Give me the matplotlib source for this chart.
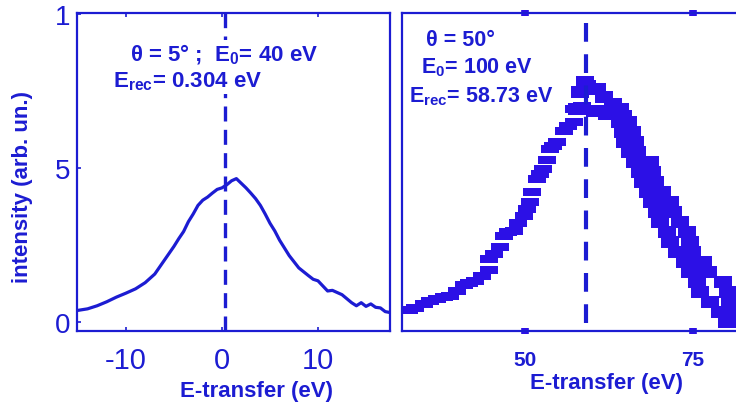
import numpy as np
import matplotlib
matplotlib.use('Agg')
from matplotlib import pyplot as plt

plt.rcParams['font.family'] = ['Liberation Sans', 'DejaVu Sans']
plt.rcParams['mathtext.fontset'] = 'custom'
plt.rcParams['mathtext.rm'] = 'Liberation Sans:bold'
plt.rcParams['mathtext.it'] = 'Liberation Sans:bold'
plt.rcParams['mathtext.bf'] = 'Liberation Sans:bold'
plt.rcParams['axes.unicode_minus'] = False

# left panel: theta = 5 deg, continuous spectrum
left_x = [-15.0, -14.0, -13.0, -12.0, -11.0, -10.0, -9.0, -8.0, -7.0, -6.0,
          -5.0, -4.5, -4.0, -3.5, -3.0, -2.5, -2.0, -1.5, -1.0, -0.5,
          0.0, 0.5, 1.0, 1.5, 2.0, 2.5, 3.0, 3.5, 4.0, 4.5,
          5.0, 5.5, 6.0, 7.0, 8.0, 9.0, 9.5, 10.0, 11.0, 11.5,
          12.0, 12.5, 13.0, 13.5, 14.0, 14.5, 15.0, 15.5, 16.0, 16.5,
          17.0, 17.5]
left_y = [0.37, 0.42, 0.52, 0.65, 0.80, 0.93, 1.07, 1.27, 1.55, 2.0,
          2.45, 2.7, 2.93, 3.25, 3.5, 3.78, 3.95, 4.05, 4.18, 4.3,
          4.35, 4.45, 4.58, 4.65, 4.5, 4.35, 4.18, 4.0, 3.78, 3.5,
          3.2, 2.95, 2.65, 2.15, 1.75, 1.5, 1.38, 1.33, 1.0, 1.02,
          0.95, 0.88, 0.75, 0.62, 0.52, 0.62, 0.5, 0.58, 0.47, 0.45,
          0.33, 0.3]
left_erec = 0.304

# right panel: theta = 50 deg, measured points (rising side, peak, falling side)
rise_x = [32.8, 33.8, 35.0, 36.0, 37.0, 38.0, 39.0, 40.0, 40.95, 41.8,
          42.7, 43.7, 44.7, 44.7, 45.5, 46.4, 46.9, 47.6, 48.4, 49.1,
          49.85, 50.3, 50.85, 51.1, 51.8, 52.3, 52.8, 53.3, 53.8, 54.3,
          54.8, 55.8, 56.5, 57.3, 57.3, 58.5]
rise_y = [0.37, 0.45, 0.58, 0.67, 0.75, 0.8, 0.85, 1.0, 1.18, 1.25,
          1.34, 1.5, 1.67, 2.05, 2.2, 2.42, 2.8, 2.9, 2.96, 3.2,
          3.45, 3.65, 3.89, 4.21, 4.64, 4.8, 4.97, 5.24, 5.62, 5.7,
          5.83, 6.21, 6.35, 6.48, 6.92, 7.02]
peak_x = [59.0, 59.25, 58.26, 60.74, 61.73, 63.21, 64.2, 57.77, 60.49, 62.22,
          64.69]
peak_y = [7.78, 7.67, 7.46, 7.56, 7.30, 7.08, 6.92, 6.92, 6.86, 6.75,
          6.70]
fall_x = [64.20, 65.43, 64.69, 65.93, 64.94, 66.42, 65.68, 66.67, 66.42, 68.65,
          67.17, 68.90, 67.66, 69.39, 68.40, 70.38, 68.90, 71.62, 69.64, 72.11,
          70.13, 73.10, 71.12, 74.09, 71.62, 74.58, 72.60, 74.83, 73.84, 76.56,
          74.58, 77.30, 75.57, 79.53, 76.07, 80.27, 77.55, 80.52, 79.04, 80.77,
          80.02, 81.01]
fall_y = [6.48, 6.48, 6.16, 6.16, 5.83, 5.83, 5.51, 5.51, 5.18, 5.18,
          4.86, 4.86, 4.53, 4.53, 4.21, 4.21, 3.88, 3.88, 3.56, 3.56,
          3.24, 3.24, 2.91, 2.91, 2.59, 2.59, 2.26, 2.26, 1.94, 1.94,
          1.61, 1.61, 1.29, 1.29, 0.96, 0.96, 0.64, 0.64, 0.31, 0.31,
          -0.01, -0.01]
right_erec = 59.1

blue = '#1c1cd2'
mark = '#2c10e6'
W, H = 736, 410

fig = plt.figure(figsize=(W / 100, H / 100), dpi=100)

# left axes
ax1 = fig.add_axes([77 / W, (H - 332) / H, 313 / W, 318 / H])
ax1.plot(left_x, left_y, color=blue, lw=2.3)
ax1.axvline(left_erec, color=blue, lw=2.4, dashes=(4.5, 2.5), zorder=1)
ax1.set_xlim(-15.1, 17.5)
ax1.set_ylim(-0.3, 10.03)
ax1.set_xticks([-10, 0, 10])
ax1.set_yticks([0, 5, 10])
ax1.set_yticklabels(['0', '5', '1'])
ax1.tick_params(direction='in', length=3, width=1.2, color=blue,
                labelcolor=blue, labelsize=21, top=True, right=False, pad=11)
ax1.tick_params(axis='y', labelsize=20, pad=5)
for s in ax1.spines.values():
    s.set_color(blue)
    s.set_linewidth(1.6)
box = dict(facecolor='white', edgecolor='none', pad=1.5)
ax1.text(0.169, 0.871, r'θ = 5° ;  E$_0$= 40 eV', transform=ax1.transAxes,
         color=blue, fontsize=16, fontweight='bold', va='center', bbox=box)
ax1.text(0.115, 0.786, r'E$_{rec}$= 0.304 eV', transform=ax1.transAxes,
         color=blue, fontsize=16, fontweight='bold', va='center', bbox=box)

# right axes
ax2 = fig.add_axes([402 / W, (H - 332) / H, 340 / W, 318 / H])
flat = [(-1.1, -0.5), (1.1, -0.5), (1.1, 0.5), (-1.1, 0.5), (-1.1, -0.5)]
tall = [(-0.8, -0.5), (0.8, -0.5), (0.8, 0.5), (-0.8, 0.5), (-0.8, -0.5)]
ax2.plot(rise_x, rise_y, ls='none', marker=flat, markersize=13,
         color=mark, markeredgewidth=0)
ax2.plot(peak_x, peak_y, ls='none', marker=tall, markersize=13,
         color=mark, markeredgewidth=0)
ax2.plot(fall_x, fall_y, ls='none', marker=tall, markersize=13,
         color=mark, markeredgewidth=0)
ax2.plot([right_erec, right_erec], [-0.05, 9.7], color=blue, lw=3,
         dashes=(4.5, 3))
ax2.set_xlim(31.8, 82.3)
ax2.set_ylim(-0.3, 10.03)
ax2.set_xticks([50, 75])
ax2.set_yticks([])
ax2.tick_params(direction='inout', length=4, width=5.5, color=mark,
                labelcolor=blue, labelsize=15, top=True, pad=12)
for lab in ax2.get_xticklabels():
    lab.set_fontweight('bold')
for s in ax2.spines.values():
    s.set_color(blue)
    s.set_linewidth(1.6)
ax2.spines['right'].set_visible(False)
ax2.text(0.072, 0.918, 'θ = 50°', transform=ax2.transAxes,
         color=blue, fontsize=15.5, fontweight='bold', va='center')
ax2.text(0.057, 0.830, r'E$_0$= 100 eV', transform=ax2.transAxes,
         color=blue, fontsize=15.5, fontweight='bold', va='center')
ax2.text(0.021, 0.739, r'E$_{rec}$= 58.73 eV', transform=ax2.transAxes,
         color=blue, fontsize=15.5, fontweight='bold', va='center')

# axis labels
fig.text(257 / W, 1 - 392 / H, 'E-transfer (eV)', color=blue, fontsize=16,
         fontweight='bold', ha='center', va='center')
fig.text(607 / W, 1 - 384 / H, 'E-transfer (eV)', color=blue, fontsize=16,
         fontweight='bold', ha='center', va='center')
fig.text(23 / W, 1 - 187 / H, 'intensity (arb. un.)', color=blue, fontsize=16,
         fontweight='bold', ha='center', va='center', rotation=90)

fig.savefig('out.png', dpi=100)
